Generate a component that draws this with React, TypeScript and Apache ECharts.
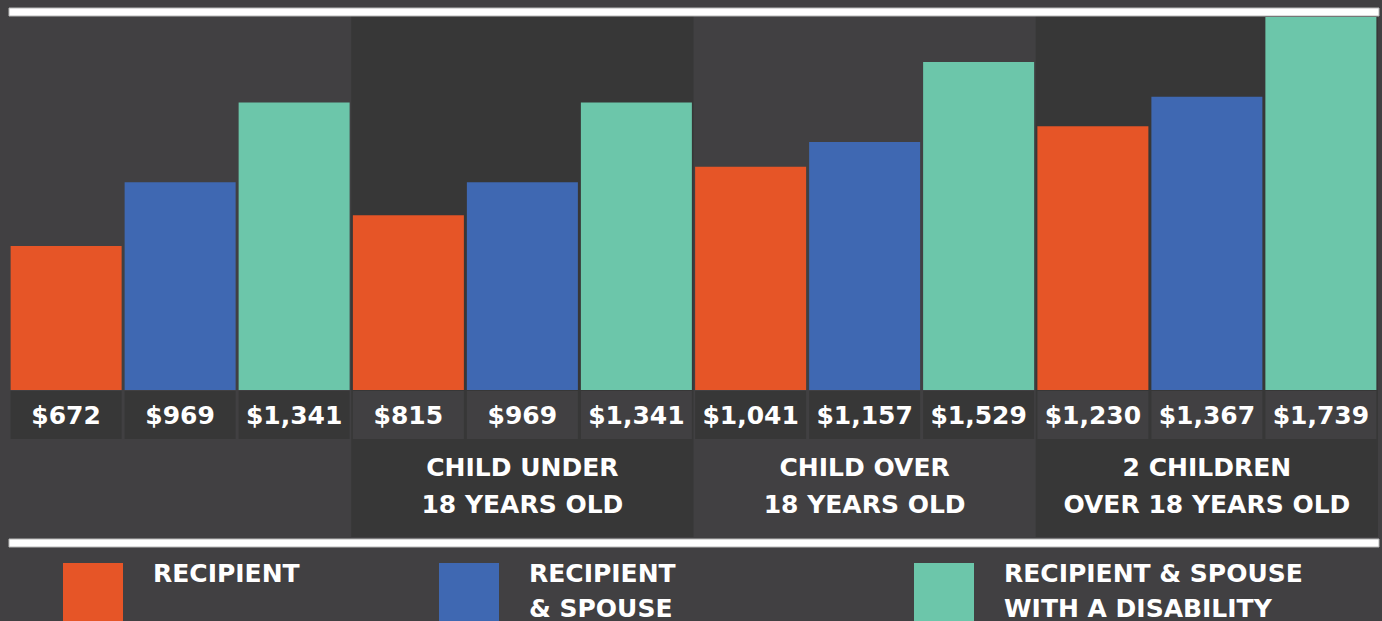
import React, { useEffect, useRef } from "react";
import * as echarts from "echarts";

const groups = ["", "CHILD UNDER\n18 YEARS OLD", "CHILD OVER\n18 YEARS OLD", "2 CHILDREN\nOVER 18 YEARS OLD"];
const seriesNames = ["RECIPIENT", "RECIPIENT\n& SPOUSE", "RECIPIENT & SPOUSE\nWITH A DISABILITY"];
const recipient = [672, 815, 1041, 1230];
const recipientSpouse = [969, 969, 1157, 1367];
const recipientSpouseDisability = [1341, 1341, 1529, 1739];

const COLORS = ["#E65527", "#3F68B2", "#6CC6AA"];
const LIGHT = "#414042";
const DARK = "#373737";
const FONT = "DejaVu Sans";

export default function App() {
  const ref = useRef<HTMLDivElement>(null);
  useEffect(() => {
    const chart = echarts.init(ref.current!, null, { renderer: "svg" });
    const allSeries = [recipient, recipientSpouse, recipientSpouseDisability];
    const legendX = [63, 439, 914];
    const option: any = {
      animation: false,
      backgroundColor: LIGHT,
      grid: [
        { left: 9, right: 4, top: 16, bottom: 231 },
        { left: 9, right: 4, top: 16, bottom: 84 },
      ],
      xAxis: [
        {
          type: "category",
          gridIndex: 0,
          data: groups,
          z: 5,
          axisLine: { show: false },
          axisTick: { show: false },
          axisLabel: {
            margin: 59,
            color: "#ffffff",
            fontFamily: FONT,
            fontWeight: "bold",
            fontSize: 25,
            lineHeight: 37,
            interval: 0,
          },
        },
        {
          type: "category",
          gridIndex: 1,
          data: groups,
          show: false,
        },
      ],
      yAxis: [
        { type: "value", gridIndex: 0, min: 0, max: 1744, show: false, splitLine: { show: false } },
        { type: "value", gridIndex: 1, min: 0, max: 1, show: false, splitLine: { show: false } },
      ],
      series: [
        {
          type: "bar",
          name: "bg",
          xAxisIndex: 1,
          yAxisIndex: 1,
          silent: true,
          barWidth: "100%",
          z: 0,
          itemStyle: { color: DARK },
          data: groups.map((_, i) => (i % 2 ? 1 : 0)),
        },
        ...allSeries.map((vals, s) => ({
          type: "bar",
          name: seriesNames[s],
          xAxisIndex: 0,
          yAxisIndex: 0,
          barWidth: 111,
          barGap: "2.7%",
          z: 2,
          itemStyle: { color: COLORS[s] },
          label: {
            show: true,
            position: ["50%", "100%"],
            align: "center",
            verticalAlign: "top",
            offset: [0, 1],
            width: 111,
            height: 48,
            lineHeight: 48,
            color: "#ffffff",
            fontFamily: FONT,
            fontWeight: "bold",
            fontSize: 25,
            formatter: (p: any) => "$" + Number(p.value).toLocaleString("en-US"),
          },
          data: vals.map((v, i) => ({
            value: v,
            label: { backgroundColor: i % 2 ? LIGHT : DARK },
          })),
        })),
      ],
      graphic: [
        {
          type: "rect",
          shape: { x: 9, y: 8, width: 1370, height: 8 },
          style: { fill: "#ffffff", stroke: "#b8b8b8", lineWidth: 1 },
          z: 10,
        },
        {
          type: "rect",
          shape: { x: 9, y: 539, width: 1370, height: 8 },
          style: { fill: "#ffffff", stroke: "#b8b8b8", lineWidth: 1 },
          z: 10,
        },
        ...seriesNames.flatMap((name, s) => [
          {
            type: "rect",
            shape: { x: legendX[s], y: 563, width: 60, height: 70 },
            style: { fill: COLORS[s] },
            z: 10,
          },
          {
            type: "text",
            x: legendX[s] + 90,
            y: 556,
            z: 10,
            style: {
              text: name,
              fill: "#ffffff",
              font: `bold 25px "${FONT}"`,
              lineHeight: 35,
              verticalAlign: "top",
              align: "left",
            },
          },
        ]),
      ],
    };
    chart.setOption(option);
    return () => chart.dispose();
  }, []);
  return (
    <div
      ref={ref}
      style={{ position: "fixed", left: 0, top: 0, width: 1382, height: 621, background: LIGHT }}
    />
  );
}
